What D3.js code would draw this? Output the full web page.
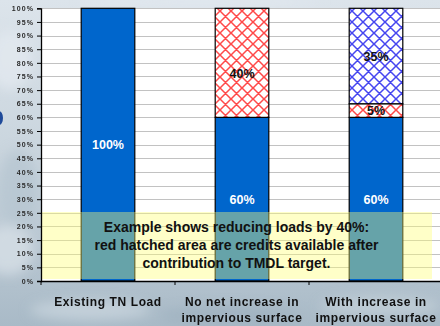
<!DOCTYPE html>
<html>
<head>
<meta charset="utf-8">
<script src="https://cdn.jsdelivr.net/npm/d3@7"></script>
<style>
  html, body { margin: 0; padding: 0; background: #c9d5de; }
  svg { display: block; font-family: Arial, "Liberation Sans", sans-serif; }
</style>
</head>
<body>
<svg id="chart" width="440" height="326"></svg>
<script>
// Category labels (one entry per bar, split into display lines)
const categories = ["Existing TN Load", "No net increase in impervious surface", "With increase in impervious surface"];
const categoryLines = [["Existing TN Load"], ["No net increase in", "impervious surface"], ["With increase in", "impervious surface"]];

// Share of the load (%) in each stacked segment
const baseLoad = [100, 60, 60];      // remaining load (solid blue)
const redCredits = [0, 40, 5];       // credits available (red hatched)
const increaseLoad = [0, 0, 35];     // load from new impervious surface (blue hatched)

const seriesKeys = ["base", "red", "blue"];
const yTicks = d3.range(0, 101, 5);

const noteLines = [
  "Example shows reducing loads by 40%:",
  "red hatched area are credits available after",
  "contribution to TMDL target."
];

const W = 440, H = 326;
const plot = { left: 41, right: 443, top: 8.3, bottom: 281 };

const svg = d3.select("#chart");
const defs = svg.append("defs");

// Background wash
const bg = defs.append("linearGradient").attr("id", "bgGrad").attr("x1", 0).attr("y1", 0).attr("x2", 0).attr("y2", 1);
bg.append("stop").attr("offset", "0%").attr("stop-color", "#dce4eb");
bg.append("stop").attr("offset", "55%").attr("stop-color", "#c6d2db");
bg.append("stop").attr("offset", "100%").attr("stop-color", "#a9bac7");
svg.append("rect").attr("width", W).attr("height", H).attr("fill", "url(#bgGrad)");

const blurF = defs.append("filter").attr("id", "soft").attr("x", "-50%").attr("y", "-50%").attr("width", "200%").attr("height", "200%");
blurF.append("feGaussianBlur").attr("stdDeviation", 6);
const clouds = [
  [10, 60, 22, 30, "#e2e9ef"], [18, 190, 20, 40, "#b7c6d1"], [8, 250, 25, 25, "#d6dfe6"],
  [90, 310, 60, 10, "#c8d4dd"], [230, 316, 70, 9, "#9fb1bf"], [380, 306, 60, 10, "#c3cfd8"],
  [200, 2, 120, 5, "#e3eaf0"]
];
svg.append("g").attr("filter", "url(#soft)").selectAll("ellipse").data(clouds).join("ellipse")
  .attr("cx", d => d[0]).attr("cy", d => d[1]).attr("rx", d => d[2]).attr("ry", d => d[3])
  .attr("fill", d => d[4]).attr("opacity", 0.8);

// Small slide ornament at the left edge
svg.append("ellipse").attr("cx", -1).attr("cy", 118).attr("rx", 4).attr("ry", 7).attr("fill", "#1f4a99");

// Hatch patterns
function hatch(id, color) {
  const p = defs.append("pattern").attr("id", id).attr("patternUnits", "userSpaceOnUse")
    .attr("width", 11).attr("height", 11);
  p.append("rect").attr("width", 11).attr("height", 11).attr("fill", "#ffffff");
  p.append("path").attr("d", "M-1,-1 L12,12 M-1,10 L1,12 M10,-1 L12,1 M-1,12 L12,-1 M-1,1 L1,-1 M10,12 L12,10")
    .attr("stroke", color).attr("stroke-width", 1.5).attr("fill", "none");
}
hatch("hatchRed", "#ff4a4a");
hatch("hatchBlue", "#4646f0");

const fills = { base: "#0066cc", red: "url(#hatchRed)", blue: "url(#hatchBlue)" };

const x = d3.scaleBand().domain(categories).range([plot.left, plot.right]).paddingInner(0.6).paddingOuter(0.3);
const y = d3.scaleLinear().domain([0, 100]).range([plot.bottom, plot.top]);

// Plot area
svg.append("rect").attr("x", plot.left).attr("y", plot.top).attr("width", W - plot.left).attr("height", plot.bottom - plot.top).attr("fill", "#ffffff");

// Gridlines
svg.append("g").selectAll("line").data(yTicks.filter(t => t > 0)).join("line")
  .attr("x1", plot.left).attr("x2", W)
  .attr("y1", d => Math.round(y(d)) + 0.5).attr("y2", d => Math.round(y(d)) + 0.5)
  .attr("stroke", "#c2c2c2").attr("stroke-width", 1.2);

// Stacked bars
const rows = categories.map((c, i) => ({ cat: c, base: baseLoad[i], red: redCredits[i], blue: increaseLoad[i] }));
const stacked = d3.stack().keys(seriesKeys)(rows);

const layers = svg.append("g").selectAll("g").data(stacked).join("g").attr("fill", d => fills[d.key]);
layers.selectAll("rect").data(d => d.filter(s => s[1] > s[0])).join("rect")
  .attr("x", d => x(d.data.cat))
  .attr("y", d => y(d[1]))
  .attr("width", x.bandwidth())
  .attr("height", d => y(d[0]) - y(d[1]))
  .attr("stroke", "#000").attr("stroke-width", 1.2);

// Segment value labels
const labelData = [];
stacked.forEach(layer => {
  layer.forEach(s => {
    const v = s[1] - s[0];
    if (v > 0) labelData.push({ key: layer.key, cat: s.data.cat, v: v, mid: (s[0] + s[1]) / 2 });
  });
});
svg.append("g").selectAll("text").data(labelData).join("text")
  .attr("x", d => x(d.cat) + x.bandwidth() / 2)
  .attr("y", d => y(d.mid) + (d.key === "red" && d.v === 40 ? 10.5 : 0))
  .attr("dy", "0.36em")
  .attr("text-anchor", "middle")
  .attr("font-size", 12.5).attr("font-weight", "bold")
  .attr("fill", d => d.key === "base" ? "#ffffff" : "#111111")
  .text(d => d.v + "%");

// Note box overlaid on the lower part of the chart
svg.append("rect").attr("x", 41).attr("y", 212).attr("width", 391).attr("height", 67)
  .attr("fill", "rgb(255,255,117)").attr("fill-opacity", 0.4);
svg.append("g").selectAll("text").data(noteLines).join("text")
  .attr("x", 236.5).attr("y", (d, i) => 232 + i * 18)
  .attr("text-anchor", "middle").attr("font-size", 14).attr("font-weight", "bold").attr("fill", "#111")
  .text(d => d);

// Axes
const yAxis = d3.axisLeft(y).tickValues(yTicks).tickSize(4).tickFormat(d => d + "%");
const gy = svg.append("g").attr("transform", `translate(${plot.left},0)`).call(yAxis);
gy.select(".domain").attr("stroke", "#000").attr("stroke-width", 1.3);
gy.selectAll(".tick line").attr("stroke", "#000");
gy.selectAll(".tick text").attr("font-size", 7).attr("font-weight", "bold").attr("fill", "#2a2a2a")
  .attr("letter-spacing", "1.1px").attr("x", -7).attr("font-family", "Arial, 'Liberation Sans', sans-serif");

const gx = svg.append("g");
gx.append("line").attr("x1", plot.left).attr("x2", W).attr("y1", plot.bottom + 0.5).attr("y2", plot.bottom + 0.5)
  .attr("stroke", "#000").attr("stroke-width", 1.3);
const boundaries = d3.range(0, 4).map(i => plot.left + i * x.step());
gx.selectAll("line.tk").data(boundaries).join("line").attr("class", "tk")
  .attr("x1", d => d).attr("x2", d => d).attr("y1", plot.bottom).attr("y2", plot.bottom + 4)
  .attr("stroke", "#000");

const labels = gx.selectAll("text.cat").data(categories).join("text").attr("class", "cat")
  .attr("x", d => x(d) + x.bandwidth() / 2)
  .attr("text-anchor", "middle").attr("font-size", 12).attr("font-weight", "bold").attr("fill", "#111")
  .attr("letter-spacing", "0.6px");
labels.selectAll("tspan").data((d, i) => categoryLines[i]).join("tspan")
  .attr("x", function () { return this.parentNode.getAttribute("x"); })
  .attr("y", (d, i) => 306 + i * 15.5)
  .text(d => d);
</script>
</body>
</html>
